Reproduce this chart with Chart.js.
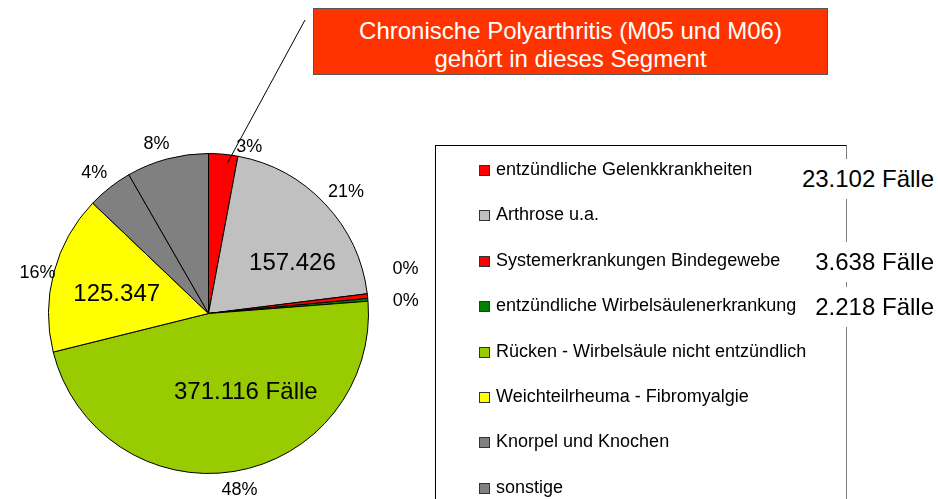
<!DOCTYPE html>
<html>
<head>
<meta charset="utf-8">
<script src="https://cdn.jsdelivr.net/npm/chart.js@4/dist/chart.umd.min.js"></script>
<style>
  body { margin: 0; background: #fff; font-family: "Liberation Sans", Arial, sans-serif; }
  #wrap { position: relative; width: 938px; height: 499px; overflow: hidden; }
  #chart { position: absolute; left: 0; top: 0; }
  #note {
    position: absolute; left: 313px; top: 8px; width: 513px; height: 65px;
    background: #FF3300; border: 1px solid #555; color: #fff;
    font-size: 24px; line-height: 28px; text-align: center; padding-top: 8px; box-sizing: content-box;
  }
  #note { height: 57px; }
  #legend {
    position: absolute; left: 435px; top: 145px; width: 410px; height: 400px;
    border-left: 1px solid #000; border-top: 1px solid #000; border-right: 1px solid #808080;
    padding-top: 1px; font-size: 18px; color: #000;
  }
  .item { height: 45.4px; line-height: 45.4px; white-space: nowrap; }
  .box { display: inline-block; width: 9px; height: 9px; border: 1px solid #333; margin-left: 43px; margin-right: 6px; vertical-align: -1px; }
  .side { position: absolute; right: 4px; background: #fff; font-size: 24px; height: 40px; line-height: 40px; padding-left: 6px; padding-right: 0; }
</style>
</head>
<body>
<div id="wrap">
  <canvas id="chart" width="938" height="499"></canvas>
  <div id="note">Chronische Polyarthritis (M05 und M06)<br>gehört in dieses Segment</div>
  <div id="legend"></div>
</div>
<script>
// categories and values (grey slices estimated)
const categories = [
    'entzündliche Gelenkkrankheiten',
    'Arthrose u.a.',
    'Systemerkrankungen Bindegewebe',
    'entzündliche Wirbelsäulenerkrankung',
    'Rücken - Wirbelsäule nicht entzündlich',
    'Weichteilrheuma - Fibromyalgie',
    'Knorpel und Knochen',
    'sonstige'
];
const cases = [23102, 157426, 3638, 2218, 371116, 125347, 36000, 65000];
const percentLabels = ['3%', '21%', '0%', '0%', '48%', '16%', '4%', '8%'];
const valueLabels = ['', '157.426', '', '', '371.116 Fälle', '125.347', '', ''];
const sideLabels = ['23.102 Fälle', '3.638 Fälle', '2.218 Fälle'];
const colors = ['#FF0000', '#C0C0C0', '#FF0000', '#008000', '#99CC00', '#FFFF00', '#808080', '#808080'];

// small nudges so labels sit where the original had them
const pctNudge = [[24, 15], [5, 3], [16, -25], [16, 3], [2, -3], [5, 6], [-2, 3], [-5, 6]];
const valueNudge = [[0, 0], [14, 16], [0, 0], [0, 0], [22, -16], [1, 5], [0, 0], [0, 0]];

const FONT = '"Liberation Sans", Arial, sans-serif';

const pieLabels = {
    id: 'pieLabels',
    afterDatasetsDraw(chart) {
        const ctx = chart.ctx;
        const arcs = chart.getDatasetMeta(0).data;
        ctx.save();
        ctx.fillStyle = '#000';
        ctx.textAlign = 'center';
        ctx.textBaseline = 'middle';
        arcs.forEach((arc, i) => {
            const p = arc.getProps(['x', 'y', 'startAngle', 'endAngle', 'outerRadius'], true);
            const mid = (p.startAngle + p.endAngle) / 2;
            ctx.font = '18px ' + FONT;
            ctx.fillText(percentLabels[i],
                p.x + Math.cos(mid) * (p.outerRadius + 22) + pctNudge[i][0],
                p.y + Math.sin(mid) * (p.outerRadius + 22) + pctNudge[i][1]);
            if (valueLabels[i]) {
                ctx.font = '24px ' + FONT;
                ctx.fillText(valueLabels[i],
                    p.x + Math.cos(mid) * p.outerRadius * 0.6 + valueNudge[i][0],
                    p.y + Math.sin(mid) * p.outerRadius * 0.6 + valueNudge[i][1]);
            }
        });
        // callout line from the first segment up to the note box
        const r = arcs[0].getProps(['x', 'y', 'startAngle', 'endAngle', 'outerRadius'], true);
        const a = r.startAngle + 0.68 * (r.endAngle - r.startAngle);
        ctx.beginPath();
        ctx.moveTo(r.x + Math.cos(a) * r.outerRadius * 0.95, r.y + Math.sin(a) * r.outerRadius * 0.95);
        ctx.lineTo(305, 20);
        ctx.strokeStyle = '#000';
        ctx.lineWidth = 1;
        ctx.stroke();
        ctx.restore();
    }
};

const ctx = document.getElementById('chart').getContext('2d');
new Chart(ctx, {
    type: 'pie',
    data: {
        labels: categories,
        datasets: [{
            data: cases,
            backgroundColor: colors,
            borderColor: '#000',
            borderWidth: 1
        }]
    },
    options: {
        responsive: false,
        animation: false,
        layout: { padding: { left: 48, top: 153, right: 569, bottom: 25 } },
        plugins: {
            legend: { display: false },
            tooltip: { enabled: false }
        }
    },
    plugins: [pieLabels]
});

// legend
const legend = document.getElementById('legend');
categories.forEach((name, i) => {
    const row = document.createElement('div');
    row.className = 'item';
    row.innerHTML = '<span class="box" style="background:' + colors[i] + '"></span>' + name;
    legend.appendChild(row);
});

// case counts next to the legend
const sideTops = [159, 242, 287];
sideLabels.forEach((t, i) => {
    const s = document.createElement('div');
    s.className = 'side';
    s.style.top = sideTops[i] + 'px';
    s.textContent = t;
    document.getElementById('wrap').appendChild(s);
});
</script>
</body>
</html>
